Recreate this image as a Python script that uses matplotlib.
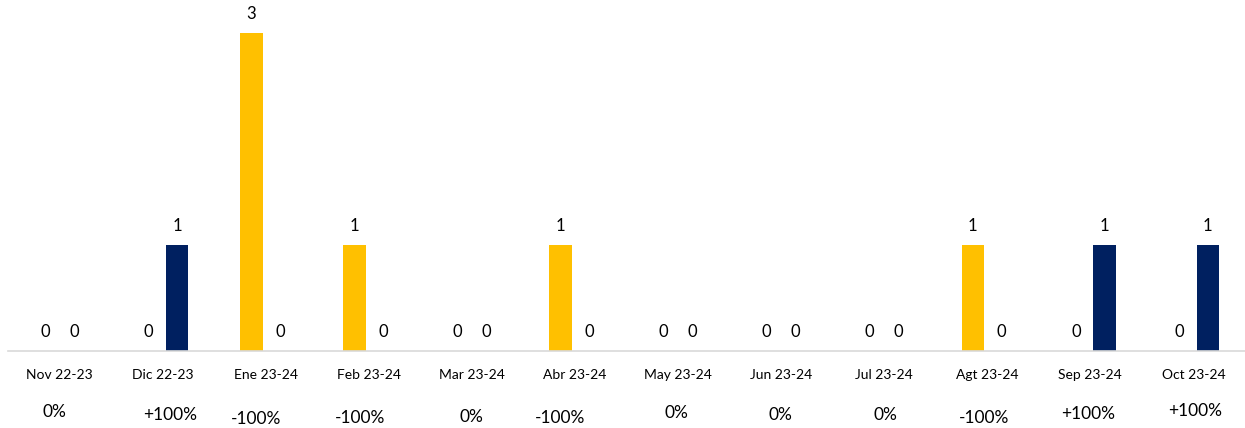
import matplotlib.pyplot as plt
import numpy as np

plt.rcParams['font.family'] = ['Lato', 'DejaVu Sans']

categories = ['Nov 22-23', 'Dic 22-23', 'Ene 23-24', 'Feb 23-24', 'Mar 23-24', 'Abr 23-24',
              'May 23-24', 'Jun 23-24', 'Jul 23-24', 'Agt 23-24', 'Sep 23-24', 'Oct 23-24']
prev_year = [0, 0, 3, 1, 0, 1, 0, 0, 0, 1, 0, 0]
curr_year = [0, 1, 0, 0, 0, 0, 0, 0, 0, 0, 1, 1]
pct_change = ['0%', '+100%', '-100%', '-100%', '0%', '-100%', '0%', '0%', '0%', '-100%', '+100%', '+100%']

# small nudges of the % labels (pixels, up / right positive), as placed on the original slide
pct_dx = [-5, 7, -10, -9, 0, -15, -2, -1, 1, -3, -2, 2]
pct_dy = [3, 0, -4, -3, -2, -3, 2, 0, 0, -3, 1, 4]

YELLOW = '#FFC000'
NAVY = '#002060'

fig = plt.figure(figsize=(12.45, 4.28), dpi=100)
ax = fig.add_axes([8 / 1245, 77 / 428, 1237 / 1245, 351 / 428])

x = np.arange(len(categories))
w = 0.22
off = 0.14
b1 = ax.bar(x - off, prev_year, w, color=YELLOW)
b2 = ax.bar(x + off, curr_year, w, color=NAVY)

for bars in (b1, b2):
    for rect in bars:
        h = rect.get_height()
        ax.annotate('%d' % h, (rect.get_x() + rect.get_width() / 2, h),
                    xytext=(0, 8), textcoords='offset points',
                    ha='center', va='bottom', fontsize=12, color='#000000')

ax.set_xlim(-0.5, len(categories) - 0.5)
ax.set_ylim(0, 3.31)
ax.set_xticks(x)
ax.set_xticklabels(categories, fontsize=10)
ax.tick_params(axis='x', length=0, pad=13)
ax.set_yticks([])
for s in ['top', 'right', 'left']:
    ax.spines[s].set_visible(False)
ax.spines['bottom'].set_color('#d9d9d9')
ax.spines['bottom'].set_linewidth(1.2)

for i, p in enumerate(pct_change):
    ax.annotate(p, (x[i], 0), xycoords=('data', 'axes fraction'),
                xytext=(pct_dx[i] * 0.72, -46 + pct_dy[i] * 0.72), textcoords='offset points',
                ha='center', va='center', fontsize=12.5, color='#000000')

fig.savefig('out.png', dpi=100)
